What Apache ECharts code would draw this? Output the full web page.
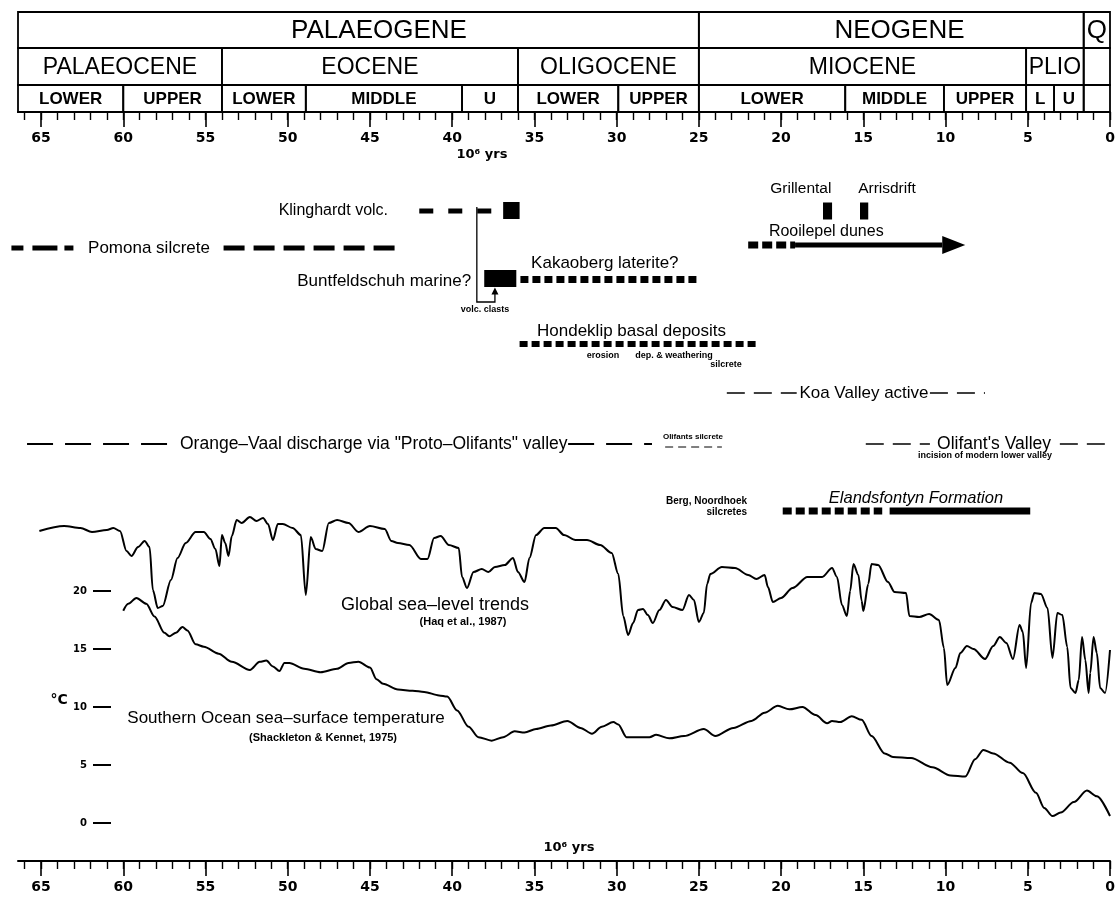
<!DOCTYPE html>
<html><head><meta charset="utf-8">
<script src="https://cdn.jsdelivr.net/npm/echarts@6.0.0/dist/echarts.min.js"></script>
<style>html,body{margin:0;padding:0;background:#fff}#chart{width:1118px;height:897px}</style>
</head><body><div id="chart"></div>
<script>
// ================= DATA =================
// Time axis (Ma)
const majorTicks = [0,5,10,15,20,25,30,35,40,45,50,55,60,65];
const minorTicks = [];
for (let i = 0; i <= 66; i++) minorTicks.push(i);

// Stratigraphic header
const periodNames = ['PALAEOGENE', 'NEOGENE', 'Q'];
const periodBounds = [[66.4, 25], [25, 1.6], [1.6, 0]];
const periodLabelAges = [44.45, 12.8, 0.8];
const epochNames = ['PALAEOCENE', 'EOCENE', 'OLIGOCENE', 'MIOCENE', 'PLIO', ''];
const epochBounds = [[66.4, 54], [54, 36], [36, 25], [25, 5.1], [5.1, 1.6], [1.6, 0]];
const subEpochNames = ['LOWER', 'UPPER', 'LOWER', 'MIDDLE', 'U', 'LOWER', 'UPPER', 'LOWER', 'MIDDLE', 'UPPER', 'L', 'U', ''];
const subEpochBounds = [[66.4, 60], [60, 54], [54, 48.9], [48.9, 39.4], [39.4, 36], [36, 29.9], [29.9, 25],
  [25, 16.1], [16.1, 10.1], [10.1, 5.1], [5.1, 3.4], [3.4, 1.6], [1.6, 0]];

// Global sea-level trends (Haq et al., 1987) - relative level, arbitrary units
const seaAges = [65.1,63.6,62.6,61.9,61.0,60.6,60.2,59.8,59.5,59.1,58.7,58.4,58.2,57.9,57.6,57.1,56.7,56.2,55.6,55.1,
  54.7,54.4,54.15,54.0,53.8,53.6,53.4,53.1,52.8,52.3,51.9,51.5,51.2,50.9,50.6,50.3,49.7,49.2,48.9,48.6,
  48.3,47.9,47.5,47.0,46.3,45.7,45.0,44.1,43.7,43.3,42.6,41.9,41.5,41.1,40.7,40.2,39.6,39.4,39.1,38.7,
  38.2,37.8,37.4,36.8,36.3,36.0,35.6,35.3,34.9,34.4,33.7,33.2,32.5,31.8,31.0,30.3,29.9,29.6,29.3,29.0,
  28.7,28.4,28.1,27.8,27.4,27.0,26.6,26.0,25.6,25.3,25.0,24.7,24.5,24.3,23.6,22.8,22.0,21.5,21.0,20.8,
  20.5,20.0,19.3,18.4,17.5,16.9,16.6,16.3,16.0,15.8,15.6,15.3,15.1,15.0,14.7,14.5,14.1,13.5,13.1,12.4,
  12.2,11.6,11.0,10.4,10.1,9.9,9.4,9.1,8.7,8.3,7.6,7.1,6.7,6.3,5.9,5.5,5.3,5.1,4.8,4.6,
  4.2,3.8,3.5,3.2,2.9,2.6,2.4,2.1,1.9,1.7,1.5,1.3,1.2,1.0,0.8,0.6,0.3,0.0];
const seaLevels = [169,174,172,168,170,172,169,149,144,153,159,153,110,92,94,120,142,157,168,168,
  161,151,134,165,157,144,164,180,177,183,179,182,176,160,176,176,172,165,105,163,
  151,149,177,180,177,168,174,171,159,157,155,141,141,162,164,155,152,123,112,128,
  131,128,133,135,142,128,118,142,165,172,172,165,160,160,155,147,126,84,65,77,
  90,91,85,77,90,100,93,90,105,100,78,87,116,126,133,132,125,121,125,113,
  98,102,112,123,123,132,123,95,84,109,136,125,99,89,116,136,135,118,108,107,
  84,83,86,80,52,15,32,47,54,51,41,54,63,57,41,75,68,32,97,107,
  106,92,42,87,85,53,12,7,20,63,40,7,27,63,47,12,7,50];

// Southern Ocean sea-surface temperature (Shackleton & Kennett, 1975), deg C
const tempAges = [60.0,59.7,59.2,58.6,58.1,57.5,57.2,56.8,56.4,56.1,55.6,55.1,54.2,53.4,52.3,51.7,51.3,50.9,50.5,50.2,
  49.9,49.0,48.0,47.0,46.3,45.7,45.0,44.6,44.2,43.3,42.4,41.7,40.8,40.3,39.7,39.0,38.4,37.6,36.9,36.2,
  35.6,34.9,34.0,33.0,32.2,31.5,30.9,30.2,29.9,29.4,28.0,27.6,26.8,25.9,24.7,24.0,22.9,21.8,21.0,20.2,
  19.5,18.7,17.9,17.2,16.9,16.4,15.7,15.1,14.5,13.7,13.2,12.1,10.8,9.7,8.8,8.2,7.7,7.1,6.1,5.3,
  4.5,4.0,3.5,3.0,2.2,1.4,0.8,0.0];
const tempValues = [18.3,18.9,19.4,18.9,17.8,16.4,16.1,16.4,16.9,16.6,15.4,15.2,14.6,13.9,13.2,13.9,14.0,13.5,13.1,13.8,
  13.8,13.3,13.0,13.3,13.8,13.9,13.4,12.4,12.0,11.5,11.4,11.3,11.0,10.9,9.7,8.3,7.4,7.1,7.4,7.9,
  7.8,8.1,8.4,8.8,8.2,7.7,8.3,8.7,8.5,7.4,7.4,7.6,7.3,7.5,8.1,7.5,8.2,8.8,9.5,10.1,
  9.8,10.0,9.3,8.6,8.8,8.7,9.2,8.9,7.5,6.0,5.7,5.6,4.8,4.1,4.0,5.5,6.3,6.0,5.2,4.3,
  2.6,1.3,0.6,0.9,1.8,2.8,2.3,0.6];

// Age ranges of deposits/events (Ma, older -> younger)
const pomonaSilcreteEarly = [[66.8, 63.0]];
const pomonaSilcrete = [[53.9, 43.4]];
const klinghardtVolcanics = [[42.0, 36.9]];
const klinghardtMain = [[36.9, 35.9]];
const buntfeldschuhMarine = [[38.05, 36.1]];
const kakaobergLaterite = [[35.85, 24.95]];
const hondeklipDeposits = [[35.9, 21.5]];
const koaValleyActive = [[23.3, 19.05], [10.95, 7.6]];
const orangeVaalDischarge = [[65.85, 56.85], [32.95, 27.85]];
const olifantsSilcrete = [[27.05, 23.6]];
const olifantsValley = [[14.85, 10.95], [3.05, 0.0]];
const rooilepelEarly = [[22.0, 19.15]];
const rooilepelDunes = [[19.15, 10.2]];
const rooilepelArrow = [[10.2, 8.8]];
const grillental = [[17.45, 16.9]];
const arrisdrift = [[15.2, 14.7]];
const elandsfontynEarly = [[19.9, 13.85]];
const elandsfontynMain = [[13.4, 4.85]];
const volcClastLink = [[38.5, 37.4]];

// Text labels and the ages they are anchored at
const labelTexts = ['Klinghardt volc.', 'Pomona silcrete', 'Buntfeldschuh marine?', 'Kakaoberg laterite?', 'volc. clasts',
  'Hondeklip basal deposits', 'erosion', 'dep. & weathering', 'silcrete', 'Koa Valley active',
  'Orange\u2013Vaal discharge via "Proto\u2013Olifants" valley', 'Olifants silcrete', "Olifant's Valley",
  'incision of modern lower valley', 'Grillental', 'Arrisdrift', 'Rooilepel dunes', 'Berg, Noordhoek', 'silcretes',
  'Elandsfontyn Formation', 'Global sea\u2013level trends', '(Haq et al., 1987)',
  'Southern Ocean sea\u2013surface temperature', '(Shackleton & Kennet, 1975)', '\u00B0C', '10\u2076 yrs', '10\u2076 yrs'];
const labelAges = [43.9, 62.14, 38.85, 35.2, 38.0, 34.84, 30.83, 26.51, 23.35, 14.96,
  56.55, 25.36, 7.05, 7.6, 18.8, 13.56, 20.74, 22.07, 22.07, 11.8, 41.04, 39.34, 50.1, 47.85, 63.9, 38.19, 32.9];

// ================= LAYOUT / STYLE =================
const F = '"Liberation Sans", Arial, sans-serif';
const fnt = (s, w, st) => (st ? st + ' ' : '') + (w ? w + ' ' : '') + s + 'px ' + F;
// [row, align, font]
const labelLayout = [
  [7.1, 'right', fnt(16)], [10.8, 'left', fnt(17)], [14.1, 'right', fnt(17)], [12.3, 'left', fnt(17)],
  [17.0, 'center', fnt(9, 'bold')], [19.1, 'left', fnt(17)], [21.6, 'center', fnt(9, 'bold')],
  [21.6, 'center', fnt(9, 'bold')], [22.5, 'center', fnt(9, 'bold')], [25.3, 'center', fnt(17)],
  [30.4, 'left', fnt(17.5)], [29.7, 'center', fnt(8, 'bold')], [30.4, 'center', fnt(17.5)],
  [31.6, 'center', fnt(9, 'bold')], [4.9, 'center', fnt(15.5)], [4.9, 'center', fnt(15.5)],
  [9.2, 'left', fnt(16)], [36.1, 'right', fnt(10, 'bold')], [37.2, 'right', fnt(10, 'bold')],
  [35.8, 'center', fnt(16.5, null, 'italic')], [46.5, 'center', fnt(18)], [48.2, 'center', fnt(11, 'bold')],
  [57.8, 'center', fnt(17)], [59.8, 'center', fnt(11, 'bold')], [56.0, 'center', 'bold 14px "DejaVu Sans"'],
  [1.5, 'center', 'bold 13px "DejaVu Sans"'], [70.8, 'center', 'bold 13px "DejaVu Sans"']
];
// bar layers: [segments, row, lineWidth, dash]
const barLayers = [
  [pomonaSilcreteEarly, 10.8, 5, [12, 9, 25, 7, 9, 9]],
  [pomonaSilcrete, 10.8, 5, [21, 9]],
  [klinghardtVolcanics, 7.1, 5, [14, 15]],
  [klinghardtMain, 7.05, 17, null],
  [buntfeldschuhMarine, 13.85, 17, null],
  [kakaobergLaterite, 13.95, 7, [8, 4]],
  [hondeklipDeposits, 20.4, 6, [8, 4]],
  [koaValleyActive, 25.3, 1.5, [18, 9]],
  [orangeVaalDischarge, 30.4, 1.8, [26, 12]],
  [olifantsSilcrete, 30.7, 1, [8, 5]],
  [olifantsValley, 30.4, 1.5, [18, 9]],
  [rooilepelEarly, 10.5, 7, [10, 4]],
  [rooilepelDunes, 10.5, 5, null],
  [grillental, 7.1, 17, null],
  [arrisdrift, 7.1, 17, null],
  [elandsfontynEarly, 37.1, 7, [9, 4]],
  [elandsfontynMain, 37.1, 7, null]
];
const tiers = [[0.64, 1], [0.27, 0.64], [0, 0.27]];
const tierFonts = [fnt(26), fnt(23), fnt(17, 'bold')];

// ================= BUILD =================
const headerCells = [];
periodBounds.forEach((b, i) => headerCells.push({ tier: 0, b, name: periodNames[i], at: periodLabelAges[i] }));
epochBounds.forEach((b, i) => headerCells.push({ tier: 1, b, name: epochNames[i] }));
subEpochBounds.forEach((b, i) => headerCells.push({ tier: 2, b, name: subEpochNames[i] }));

const L = 18, W = 1092;
const axisFont = { color: '#000', fontSize: 14, fontWeight: 'bold', fontFamily: 'DejaVu Sans' };
function timeAxis(grid, major) {
  return {
    gridIndex: grid, type: 'value', position: 'bottom', inverse: true, min: 0, max: 66.4,
    axisLine: { show: major, onZero: false, lineStyle: { color: '#000', width: 2 } },
    axisTick: major ? { show: true, inside: false, length: 15, customValues: majorTicks, lineStyle: { color: '#000', width: 1.6 } }
                    : { show: true, inside: false, length: 8, customValues: minorTicks, lineStyle: { color: '#000', width: 1.4 } },
    axisLabel: major ? Object.assign({ show: true, margin: 19, customValues: majorTicks }, axisFont) : { show: false },
    splitLine: { show: false }
  };
}
function hiddenX(grid) { return { gridIndex: grid, type: 'value', inverse: true, min: 0, max: 66.4, show: false, axisLine: { onZero: false } }; }
function hiddenY(grid, min, max, inv) { return { gridIndex: grid, type: 'value', min, max, inverse: !!inv, show: false, axisLine: { onZero: false } }; }

const series = [];
// header table
series.push({
  type: 'custom', xAxisIndex: 0, yAxisIndex: 0, silent: true,
  data: headerCells.map(c => [c.b[0], c.b[1], c.tier]),
  renderItem(params, api) {
    const c = headerCells[params.dataIndex];
    const t = tiers[c.tier];
    const p1 = api.coord([api.value(0), t[1]]);
    const p2 = api.coord([api.value(1), t[0]]);
    const x = Math.min(p1[0], p2[0]), w = Math.abs(p2[0] - p1[0]);
    const y = p1[1], h = p2[1] - p1[1];
    const cx = c.at !== undefined ? api.coord([c.at, 0])[0] : x + w / 2;
    return { type: 'group', children: [
      { type: 'rect', shape: { x, y, width: w, height: h }, style: { fill: null, stroke: '#000', lineWidth: 1.8 } },
      { type: 'text', x: cx, y: y + h / 2 + 1, style: { text: c.name, font: tierFonts[c.tier], fill: '#000', align: 'center', verticalAlign: 'middle' } }
    ] };
  }
});
// sea level
series.push({
  type: 'line', xAxisIndex: 4, yAxisIndex: 4, data: seaAges.map((a, i) => [a, seaLevels[i]]),
  showSymbol: false, symbol: 'none', smooth: 0.3, smoothMonotone: 'x', clip: false, silent: true,
  lineStyle: { color: '#000', width: 2 }
});
// temperature
series.push({
  type: 'line', xAxisIndex: 5, yAxisIndex: 5, data: tempAges.map((a, i) => [a, tempValues[i]]),
  showSymbol: false, symbol: 'none', smooth: 0.3, smoothMonotone: 'x', clip: false, silent: true,
  lineStyle: { color: '#000', width: 2 }
});
// bars
barLayers.forEach(([segs, row, lw, dash]) => {
  series.push({
    type: 'custom', xAxisIndex: 2, yAxisIndex: 2, silent: true, data: segs,
    renderItem(params, api) {
      const a = api.coord([api.value(0), row]);
      const b = api.coord([api.value(1), row]);
      return { type: 'line', shape: { x1: a[0], y1: a[1], x2: b[0], y2: b[1] },
        style: { stroke: '#000', lineWidth: lw, lineDash: dash, lineCap: 'butt', fill: null } };
    }
  });
});
// Rooilepel arrow head
series.push({
  type: 'custom', xAxisIndex: 2, yAxisIndex: 2, silent: true, data: rooilepelArrow,
  renderItem(params, api) {
    const b = api.coord([api.value(0), 10.5]);
    const t = api.coord([api.value(1), 10.5]);
    return { type: 'polygon', shape: { points: [[b[0], b[1] - 9], [t[0], t[1]], [b[0], b[1] + 9]] }, style: { fill: '#000' } };
  }
});
// volcanic clasts link (Klinghardt -> Buntfeldschuh)
series.push({
  type: 'custom', xAxisIndex: 2, yAxisIndex: 2, silent: true, data: volcClastLink,
  renderItem(params, api) {
    const p0 = api.coord([api.value(0), 6.7]);
    const p1 = api.coord([api.value(0), 16.2]);
    const p2 = api.coord([api.value(1), 16.2]);
    const p3 = api.coord([api.value(1), 14.75]);
    return { type: 'group', children: [
      { type: 'polyline', shape: { points: [p0, p1, p2, [p2[0], p3[1] + 6]] }, style: { stroke: '#000', lineWidth: 1.3, fill: null } },
      { type: 'polygon', shape: { points: [[p3[0] - 3.5, p3[1] + 7], [p3[0], p3[1]], [p3[0] + 3.5, p3[1] + 7]] }, style: { fill: '#000' } }
    ] };
  }
});
// labels
series.push({
  type: 'custom', xAxisIndex: 2, yAxisIndex: 2, silent: true,
  data: labelAges.map((a, i) => [a, labelLayout[i][0]]),
  renderItem(params, api) {
    const i = params.dataIndex;
    const p = api.coord([api.value(0), api.value(1)]);
    return { type: 'text', x: p[0], y: p[1], style: { text: labelTexts[i], font: labelLayout[i][2], fill: '#000', align: labelLayout[i][1], verticalAlign: 'middle' } };
  }
});

const option = {
  animation: false,
  backgroundColor: '#fff',
  grid: [
    { left: L, width: W, top: 12, height: 100 },   // 0 header + top axis
    { left: L, width: W, top: 12, height: 100 },   // 1 top minor ticks
    { left: L, width: W, top: 140, height: 721 },  // 2 events + bottom axis
    { left: L, width: W, top: 140, height: 721 },  // 3 bottom minor ticks
    { left: L, width: W, top: 500, height: 200 },  // 4 sea level
    { left: L, width: W, top: 591, height: 232 }   // 5 temperature
  ],
  xAxis: [timeAxis(0, true), timeAxis(1, false), timeAxis(2, true), timeAxis(3, false), hiddenX(4), hiddenX(5)],
  yAxis: [
    hiddenY(0, 0, 1), hiddenY(1, 0, 1), hiddenY(2, 0, 72.1, true), hiddenY(3, 0, 1), hiddenY(4, 0, 200),
    { gridIndex: 5, type: 'value', min: 0, max: 20, interval: 5, position: 'left', offset: -93,
      axisLine: { show: false, onZero: false },
      axisTick: { show: true, inside: false, length: 18, lineStyle: { color: '#000', width: 2 } },
      axisLabel: { show: true, margin: 24, color: '#000', fontSize: 10, fontWeight: 'bold', fontFamily: 'DejaVu Sans' },
      splitLine: { show: false } }
  ],
  series
};
const chart = echarts.init(document.getElementById('chart'));
chart.setOption(option);
</script>
</body></html>
